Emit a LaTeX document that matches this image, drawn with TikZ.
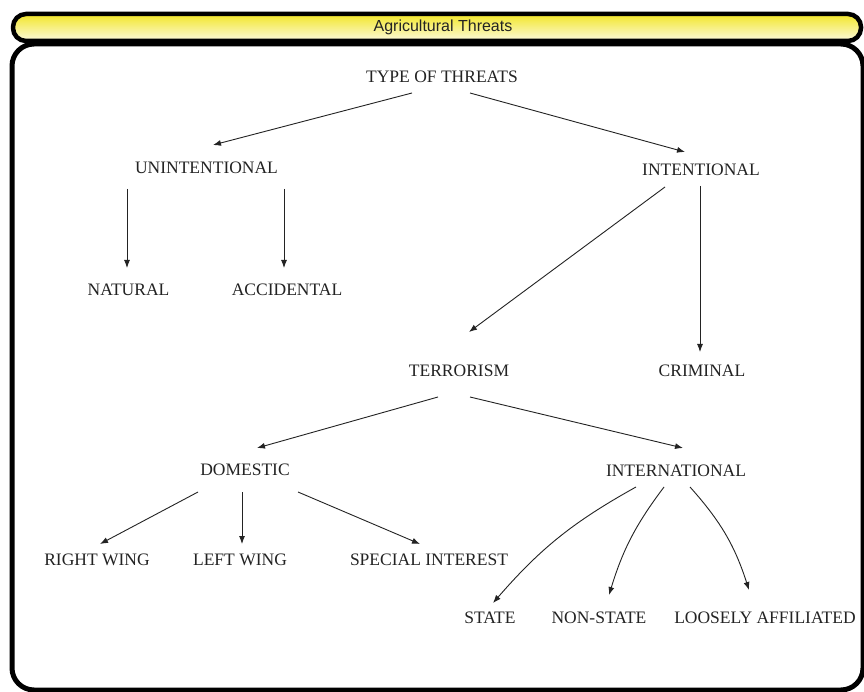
\documentclass[tikz,border=0pt]{standalone}
\usepackage{fontspec}
\setmainfont{Liberation Serif}
\newfontfamily\titlefont{Liberation Sans}
\usetikzlibrary{arrows.meta}
\definecolor{baryellow}{RGB}{242,230,40}
\definecolor{barpale}{RGB}{252,250,222}
\definecolor{inkgray}{RGB}{35,35,35}
\begin{document}
\begin{tikzpicture}[x=1pt,y=1pt,
  lbl/.style={font=\fontsize{17.5}{20}\selectfont, text=inkgray, inner sep=0pt},
  arr/.style={-{Latex[length=8pt,width=6pt]}, line width=0.9pt, draw=inkgray},
]
\useasboundingbox (0,0) rectangle (864,691);
\begin{scope}
\clip (0,0) rectangle (864,691);
\draw[line width=5pt, rounded corners=22pt, fill=white] (12,1) rectangle (863,647);
\end{scope}
\draw[line width=4.5pt, rounded corners=13pt, top color=baryellow, bottom color=barpale] (13,650) rectangle (861,677);
\node[font=\titlefont\fontsize{16}{18}\selectfont, text=inkgray, inner sep=0pt] (title) at (443,664) {Agricultural Threats};

\node[lbl] (type) at (442,614) {TYPE OF THREATS};
\node[lbl] (unint) at (206.5,523) {UNINTENTIONAL};
\node[lbl] (int) at (701,521) {INTENTIONAL};
\node[lbl] (nat) at (128.5,401) {NATURAL};
\node[lbl] (acc) at (287,401) {ACCIDENTAL};
\node[lbl] (terr) at (459,320) {TERRORISM};
\node[lbl] (crim) at (702,320) {CRIMINAL};
\node[lbl] (dom) at (245,221) {DOMESTIC};
\node[lbl] (intl) at (676,220) {INTERNATIONAL};
\node[lbl] (rw) at (97,131) {RIGHT WING};
\node[lbl] (lw) at (240,131) {LEFT WING};
\node[lbl] (si) at (429,131) {SPECIAL INTEREST};
\node[lbl] (state) at (490,73) {STATE};
\node[lbl] (non) at (599,73) {NON-STATE};
\node[lbl] (loose) at (765,73) {LOOSELY AFFILIATED};

\draw[arr] ([shift={(-30,-16)}]type.center) -- ([shift={(6.5,23)}]unint.center);
\draw[arr] ([shift={(28,-16)}]type.center) -- ([shift={(-16,18)}]int.center);
\draw[arr] ([shift={(-79.5,-21)}]unint.center) -- ([shift={(-1.5,22)}]nat.center);
\draw[arr] ([shift={(77.5,-21)}]unint.center) -- ([shift={(-3,22)}]acc.center);
\draw[arr] ([shift={(-36,-17)}]int.center) -- ([shift={(10,39)}]terr.center);
\draw[arr] ([shift={(-1,-16)}]int.center) -- ([shift={(-2,19)}]crim.center);
\draw[arr] ([shift={(-21,-26)}]terr.center) -- ([shift={(12,22)}]dom.center);
\draw[arr] ([shift={(11,-26)}]terr.center) -- ([shift={(7,23)}]intl.center);
\draw[arr] ([shift={(-47,-22)}]dom.center) -- ([shift={(3,16)}]rw.center);
\draw[arr] ([shift={(-3,-22)}]dom.center) -- ([shift={(2,16)}]lw.center);
\draw[arr] ([shift={(53,-22)}]dom.center) -- ([shift={(-9,16)}]si.center);
\draw[arr] ([shift={(-40,-16)}]intl.center) to[bend right=10] ([shift={(3,15)}]state.center);
\draw[arr] ([shift={(-12,-16)}]intl.center) to[bend right=10] ([shift={(10,23)}]non.center);
\draw[arr] ([shift={(14,-16)}]intl.center) to[bend left=12] ([shift={(-16,28)}]loose.center);
\end{tikzpicture}
\end{document}
